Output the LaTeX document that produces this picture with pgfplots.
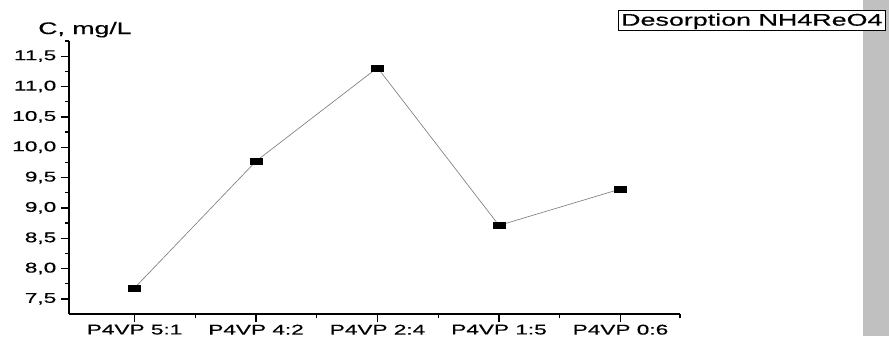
\documentclass[border=0pt]{standalone}
\usepackage{fontspec}
\setmainfont{Liberation Sans}[FakeStretch=1.6, FakeBold=0.4]
\usepackage{pgfplots}
\pgfplotsset{compat=1.18}
\definecolor{bargrey}{HTML}{C0C0C0}
\definecolor{linegrey}{HTML}{808080}
\begin{document}
\begin{tikzpicture}
\useasboundingbox (0,0) rectangle (666.75pt,252pt);
\fill[bargrey] (647.25pt,0) rectangle (666.75pt,252pt);
\begin{axis}[
  at={(51.75pt,16.5pt)}, anchor=south west,
  scale only axis, width=458.25pt, height=204.75pt,
  xmin=-0.54, xmax=4.49, ymin=7.25, ymax=11.75,
  axis x line*=bottom, axis y line*=left,
  axis line style={line width=1.1pt, -},
  tick align=outside,
  major tick length=6pt, minor tick length=3pt,
  xtick={0,1,2,3,4},
  xticklabels={P4VP 5:1,P4VP 4:2,P4VP 2:4,P4VP 1:5,P4VP 0:6},
  minor xtick={0.5,1.5,2.5,3.5,4.49},
  ytick={7.5,8,...,11.5},
  minor ytick={7.75,8.25,...,11.75},
  tick style={line width=1pt, black},
  yticklabel style={/pgf/number format/.cd, use comma, fixed, fixed zerofill, precision=1, assume math mode=true},
  ticklabel style={font=\fontsize{10.6}{12}\selectfont},
  xticklabel style={yshift=1.5pt},
  legend style={at={(rel axis cs:1.3372,1.1136)}, anchor=north east, draw=black, line width=0.6pt,
    font=\fontsize{12.6}{14}\selectfont, inner sep=0.3pt, fill=white},
  legend image code/.code={},
  clip=false,
]
\addplot[linegrey, line width=0.5pt, mark=square*, mark size=2.25pt,
  mark options={xscale=2, fill=black, draw=black, line width=0.2pt}]
  coordinates {(0,7.68) (1,9.77) (2,11.31) (3,8.71) (4,9.31)};
\addlegendentry{Desorption NH4ReO4}
\node[anchor=base west, font=\fontsize{12.5}{14}\selectfont, inner sep=0pt] at (rel axis cs:0,1) [xshift=-23.25pt, yshift=5.25pt] {C, mg/L};
\end{axis}
\end{tikzpicture}
\end{document}
